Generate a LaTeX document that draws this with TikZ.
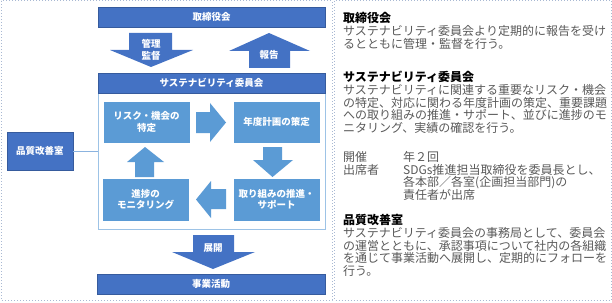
\documentclass[tikz,border=0pt]{standalone}
\usepackage{fontspec}
\setmainfont{Noto Sans CJK JP}
\newfontfamily\jp{Noto Sans CJK JP}
\definecolor{dblue}{HTML}{4472C4}
\definecolor{lblue}{HTML}{5B9BD5}
\definecolor{cborder}{HTML}{9DC3E6}
\definecolor{frame}{HTML}{A9B9D3}
\definecolor{body}{HTML}{595959}
\begin{document}
\begin{tikzpicture}[x=1pt,y=-1pt,
  darkbox/.style={fill=dblue,draw=dblue!80!black,line width=0.4pt,text=white,font=\jp\bfseries\fontsize{9.5}{11}\selectfont,inner sep=0pt,align=center},
  lightbox/.style={fill=lblue,draw=white,line width=0.6pt,text=white,font=\jp\bfseries\fontsize{9.5}{11.5}\selectfont,inner sep=0pt,align=center,minimum width=87pt,minimum height=42pt},
  bigarrow/.style={fill=dblue,draw=none},
  smallarrow/.style={fill=lblue,draw=none},
  albl/.style={text=white,font=\jp\bfseries\fontsize{9.5}{12.5}\selectfont,align=center,inner sep=0pt},
  head/.style={anchor=west,font=\jp\bfseries\fontsize{12}{12.6}\selectfont,text=black,inner sep=0pt,text height=10.5pt,text depth=1.5pt},
  txt/.style={anchor=west,font=\jp\fontsize{12}{12.6}\selectfont,text=body,inner sep=0pt,text height=10.5pt,text depth=1.5pt},
  panel/.style={draw=frame,line width=1pt,dotted}
]
\useasboundingbox (0,0) rectangle (612,302);
% panels
\draw[panel] (1,1) rectangle (332,300);
\draw[panel] (334.5,1) rectangle (611,300);

% boxes
\node[darkbox,minimum width=227pt,minimum height=20pt] (board) at (211.5,17) {取締役会};
\node[draw=cborder,fill=white,line width=0.8pt,minimum width=227pt,minimum height=156pt,inner sep=0pt] (container) at (211.5,151) {};
\node[darkbox,minimum width=227pt,minimum height=20pt] (committee) at (211.5,83) {サステナビリティ委員会};
\node[lightbox] (risk) at (146.5,122) {リスク・機会の\\特定};
\node[lightbox] (plan) at (276.5,122) {年度計画の策定};
\node[lightbox,minimum height=43pt] (promo) at (276.5,199.5) {取り組みの推進・\\サポート};
\node[lightbox,minimum height=43pt] (monitor) at (145.5,199.5) {進捗の\\モニタリング};
\node[darkbox,minimum width=66pt,minimum height=38pt] (quality) at (40,151) {品質改善室};
\node[darkbox,minimum width=228pt,minimum height=20pt] (business) at (211,284) {事業活動};
\draw[cborder!80!dblue,line width=0.6pt] (quality.east) -- (quality.east -| container.west);

% big arrows
\fill[bigarrow] (129,33) -- (172,33) -- (172,50) -- (193,50) -- (151,67) -- (110,50) -- (129,50) -- cycle;
\node[albl] (lblkanri) at (151,50) {管理\\監督};
\fill[bigarrow] (269,33) -- (310,51) -- (290,51) -- (290,68) -- (249,68) -- (249,51) -- (229,51) -- cycle;
\node[albl] (lblhoukoku) at (269,55) {報告};
\fill[bigarrow] (193,235) -- (234,235) -- (234,252) -- (255,252) -- (213,269) -- (172,252) -- (193,252) -- cycle;
\node[albl] (lbltenkai) at (213,248) {展開};

% small arrows
\fill[smallarrow] (196,112) -- (210,112) -- (210,103) -- (226,122.5) -- (210,142) -- (210,133) -- (196,133) -- cycle;
\fill[smallarrow] (263,147) -- (282,147) -- (282,160) -- (293,160) -- (272.5,177) -- (253,160) -- (263,160) -- cycle;
\fill[smallarrow] (226,189) -- (226,209) -- (211,209) -- (211,218) -- (196,199.5) -- (211,181) -- (211,189) -- cycle;
\fill[smallarrow] (135,177) -- (154,177) -- (154,162) -- (164,162) -- (145,147) -- (127,162) -- (135,162) -- cycle;

% right text
\node[head] (h1) at (343,18.3) {取締役会};
\node[txt] (t11) at (343,31) {サステナビリティ委員会より定期的に報告を受け};
\node[txt] (t12) at (343,43.6) {るとともに管理・監督を行う。};

\node[head] (h2) at (343,77.3) {サステナビリティ委員会};
\node[txt] (t21) at (343,90) {サステナビリティに関連する重要なリスク・機会};
\node[txt] (t22) at (343,102.6) {の特定、対応に関わる年度計画の策定、重要課題};
\node[txt] (t23) at (343,115.2) {への取り組みの推進・サポート、並びに進捗のモ};
\node[txt] (t24) at (343,127.8) {ニタリング、実績の確認を行う。};

\node[txt] (t31) at (343,157) {開催};
\node[txt] (t31b) at (403,157) {年２回};
\node[txt] (t32) at (343,169.6) {出席者};
\node[txt] (t32b) at (403,169.6) {SDGs推進担当取締役を委員長とし、};
\node[txt] (t33) at (403,182.2) {各本部／各室(企画担当部門)の};
\node[txt] (t34) at (403,194.8) {責任者が出席};

\node[head] (h4) at (343,220) {品質改善室};
\node[txt] (t41) at (343,233) {サステナビリティ委員会の事務局として、委員会};
\node[txt] (t42) at (343,245.6) {の運営とともに、承認事項について社内の各組織};
\node[txt] (t43) at (343,258.2) {を通じて事業活動へ展開し、定期的にフォローを};
\node[txt] (t44) at (343,270.8) {行う。};
\end{tikzpicture}
\end{document}
